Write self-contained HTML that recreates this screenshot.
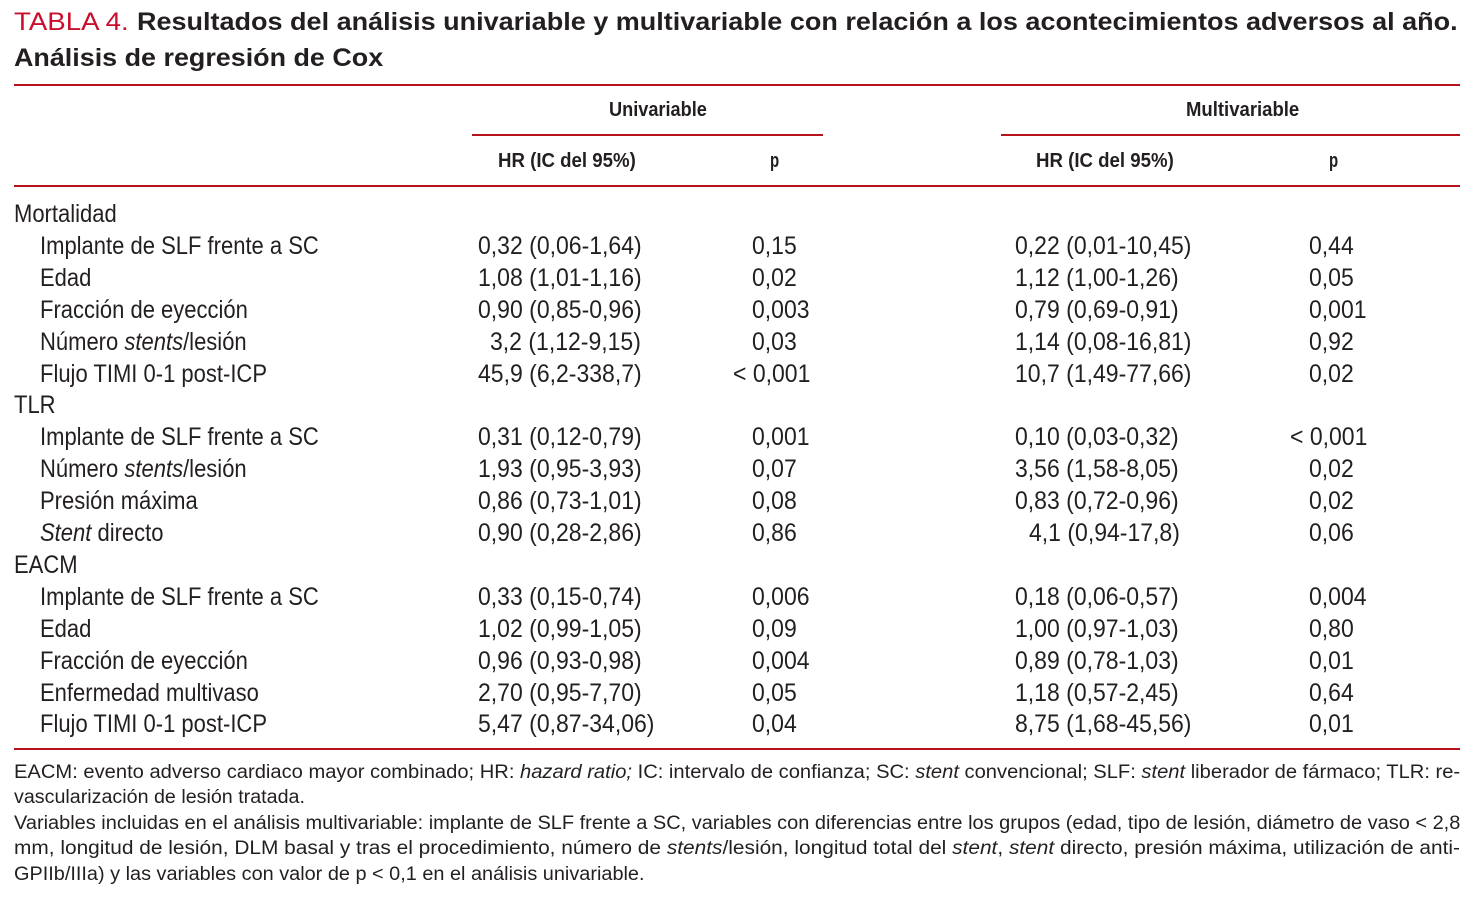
<!DOCTYPE html>
<html><head><meta charset="utf-8">
<style>
body{margin:0;width:1474px;height:905px;background:#fff;position:relative;overflow:hidden;font-family:"Liberation Sans",sans-serif;color:#231f20}
.t{position:absolute;white-space:nowrap;line-height:30px;height:30px;transform-origin:0 50%;display:inline-block}
.b{font-size:25px;transform:scaleX(0.88)}
.v{font-size:25px;transform:scaleX(0.92)}
.h{font-size:20px;font-weight:bold}
.f{font-size:19px}
.rule{position:absolute;height:2px;background:#b5121b}
i{font-style:italic}
</style></head><body>
<div class="t" data-w="115" style="left:14px;top:7px;font-size:25px;color:#c8102e">TABLA 4.</div>
<div class="t" data-w="1321" style="left:137px;top:7px;font-size:25px;font-weight:bold">Resultados del análisis univariable y multivariable con relación a los acontecimientos adversos al año.</div>
<div class="t" data-w="369" style="left:14px;top:43px;font-size:25px;font-weight:bold">Análisis de regresión de Cox</div>
<div class="rule" style="left:14px;top:84px;width:1446px"></div>
<div class="t h" data-w="98" style="left:609px;top:95px">Univariable</div>
<div class="t h" data-w="113" style="left:1186px;top:95px">Multivariable</div>
<div class="rule" style="left:472px;top:134px;width:351px"></div>
<div class="rule" style="left:1001px;top:134px;width:459px"></div>
<div class="t h" data-w="138" style="left:498px;top:146px">HR (IC del 95%)</div>
<div class="t h" data-w="9" style="left:770px;top:146px">p</div>
<div class="t h" data-w="138" style="left:1036px;top:146px">HR (IC del 95%)</div>
<div class="t h" data-w="9" style="left:1329px;top:146px">p</div>
<div class="rule" style="left:14px;top:185px;width:1446px"></div>
<div id="rows"></div>
<div class="rule" style="left:14px;top:748px;width:1446px"></div>
<div class="t f" data-w="1446" style="left:14px;top:758px">EACM: evento adverso cardiaco mayor combinado; HR: <i>hazard ratio;</i> IC: intervalo de confianza; SC: <i>stent</i> convencional; SLF: <i>stent</i> liberador de fármaco; TLR: re-</div>
<div class="t f" data-w="291" style="left:14px;top:783px">vascularización de lesión tratada.</div>
<div class="t f" data-w="1446" style="left:14px;top:809px">Variables incluidas en el análisis multivariable: implante de SLF frente a SC, variables con diferencias entre los grupos (edad, tipo de lesión, diámetro de vaso &lt; 2,8</div>
<div class="t f" data-w="1446" style="left:14px;top:834px">mm, longitud de lesión, DLM basal y tras el procedimiento, número de <i>stents</i>/lesión, longitud total del <i>stent</i>, <i>stent</i> directo, presión máxima, utilización de anti-</div>
<div class="t f" data-w="631" style="left:14px;top:860px">GPIIb/IIIa) y las variables con valor de p &lt; 0,1 en el análisis univariable.</div>
<script>
var rowLabels=["Mortalidad","Implante de SLF frente a SC","Edad","Fracción de eyección","Número <i>stents</i>/lesión","Flujo TIMI 0-1 post-ICP","TLR","Implante de SLF frente a SC","Número <i>stents</i>/lesión","Presión máxima","<i>Stent</i> directo","EACM","Implante de SLF frente a SC","Edad","Fracción de eyección","Enfermedad multivaso","Flujo TIMI 0-1 post-ICP"];
var isGroup=[1,0,0,0,0,0,1,0,0,0,0,1,0,0,0,0,0];
var uniHR=["","0,32 (0,06-1,64)","1,08 (1,01-1,16)","0,90 (0,85-0,96)","3,2 (1,12-9,15)","45,9 (6,2-338,7)","","0,31 (0,12-0,79)","1,93 (0,95-3,93)","0,86 (0,73-1,01)","0,90 (0,28-2,86)","","0,33 (0,15-0,74)","1,02 (0,99-1,05)","0,96 (0,93-0,98)","2,70 (0,95-7,70)","5,47 (0,87-34,06)"];
var uniP=["","0,15","0,02","0,003","0,03","< 0,001","","0,001","0,07","0,08","0,86","","0,006","0,09","0,004","0,05","0,04"];
var multiHR=["","0,22 (0,01-10,45)","1,12 (1,00-1,26)","0,79 (0,69-0,91)","1,14 (0,08-16,81)","10,7 (1,49-77,66)","","0,10 (0,03-0,32)","3,56 (1,58-8,05)","0,83 (0,72-0,96)","4,1 (0,94-17,8)","","0,18 (0,06-0,57)","1,00 (0,97-1,03)","0,89 (0,78-1,03)","1,18 (0,57-2,45)","8,75 (1,68-45,56)"];
var multiP=["","0,44","0,05","0,001","0,92","0,02","","< 0,001","0,02","0,02","0,06","","0,004","0,80","0,01","0,64","0,01"];
var host=document.getElementById('rows');
function cell(txt,x,y,name,cls){
  var d=document.createElement('div');
  d.className='t '+cls;
  
  
  d.innerHTML=txt;d.style.left=x+'px';d.style.top=(y-15)+'px';
  host.appendChild(d);return d;
}
for(var i=0;i<rowLabels.length;i++){
  var y=214+i*31.9;
  cell(rowLabels[i],isGroup[i]?14:40,y,isGroup[i]?'group-label':'row-label','b');
  if(uniHR[i]){
    cell(uniHR[i],uniHR[i].indexOf('3,2 ')===0?490:478,y,'uni-hr-value','v');
    cell(uniP[i].replace('<','&lt;'),uniP[i][0]==='<'?733:752,y,'uni-p-value','v');
    cell(multiHR[i],multiHR[i].indexOf('4,1 ')===0?1029:1015,y,'multi-hr-value','v');
    cell(multiP[i].replace('<','&lt;'),multiP[i][0]==='<'?1290:1309,y,'multi-p-value','v');
  }
}
document.querySelectorAll('[data-w]').forEach(function(el){
  var w=+el.getAttribute('data-w');el.style.transform='none';
  var s=el.scrollWidth;el.style.transform='scaleX('+(w/s)+')';
});
</script>
</body></html>
